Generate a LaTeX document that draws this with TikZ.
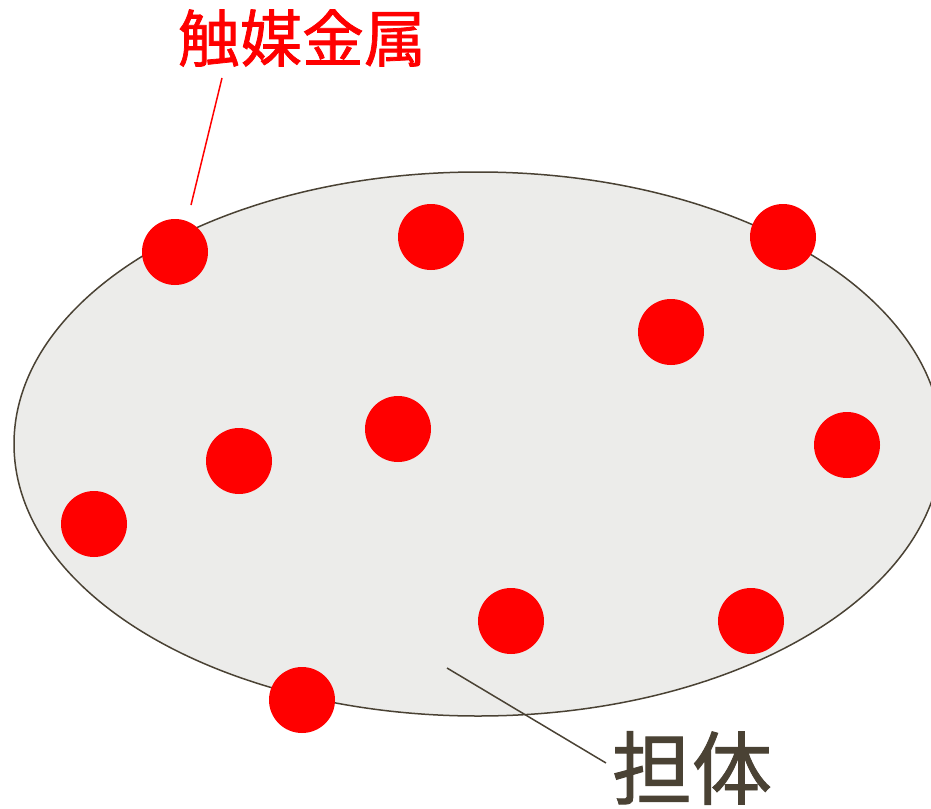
\documentclass[tikz,border=0pt]{standalone}
\usepackage{fontspec}
\newfontfamily\jpfont[FakeBold=1.2]{Noto Sans CJK JP}
\definecolor{supportgray}{RGB}{236,236,234}
\definecolor{supportedge}{RGB}{74,66,52}
\definecolor{metalred}{RGB}{255,0,0}

\tikzset{
  particle/.style={circle, fill=metalred, minimum size=66pt, inner sep=0pt},
  leader/.style={line width=1.5pt},
}

\begin{document}
\begin{tikzpicture}[x=1pt,y=-1pt]
    \useasboundingbox (0,0) rectangle (931,808);
    % support
    \draw[fill=supportgray, draw=supportedge, line width=1.5pt] (478,444) ellipse [x radius=464, y radius=272];
    % catalyst particles
    \foreach \px/\py [count=\i] in {175/252, 431/237, 783/237, 671/332, 398/429, 239/461, 94/524, 847/445, 511/621, 751/621, 302/700}
      \node[particle] (p\i) at (\px,\py) {};
    % labels
    \node[text=metalred, font=\jpfont\fontsize{62}{64}\selectfont, inner sep=0pt] (metal) at (302,38) {触媒金属};
    \node[text=supportedge, font=\jpfont\fontsize{80}{82}\selectfont, inner sep=0pt] (support) at (692,768) {担体};
    \coordinate (metaltip) at (222,78);
    \coordinate (metalend) at (191,205);
    \coordinate (supporttip) at (606,763);
    \coordinate (supportend) at (447,668);
    \draw[leader, metalred] (metaltip) -- (metalend);
    \draw[leader, supportedge] (supporttip) -- (supportend);
\end{tikzpicture}
\end{document}
